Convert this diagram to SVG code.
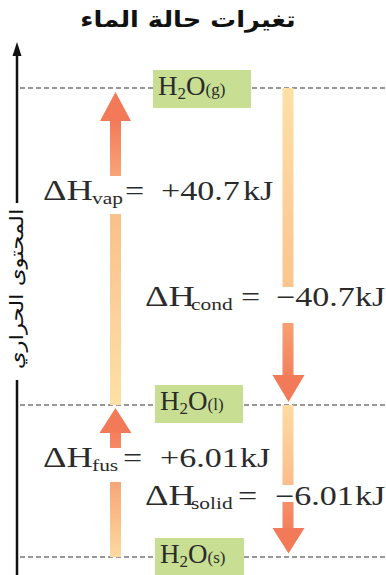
<svg xmlns="http://www.w3.org/2000/svg" width="386" height="575" viewBox="0 0 386 575">
<style>
.dash{stroke:#333;stroke-width:1.2;stroke-dasharray:5 3;fill:none}
.axis{stroke:#111;stroke-width:2.5;fill:none}
.box{fill:#c8de92}
.f{font-family:"Liberation Serif","Times New Roman",serif;fill:#2b2b2b}
.eq{font-size:27px}
.big{font-size:29px}
.sub{font-size:17px}
.hf{font-size:27px}
.hs{font-size:17px}
.ar{font-family:"DejaVu Sans",sans-serif;fill:#111}
.head{fill:#f37a58}
</style>
<defs>
<linearGradient id="g1" x1="0" y1="0" x2="0" y2="1"><stop offset="0" stop-color="#f47a58"/><stop offset="1" stop-color="#f8a47a"/></linearGradient>
<linearGradient id="g2" x1="0" y1="0" x2="0" y2="1"><stop offset="0" stop-color="#fbc08c"/><stop offset="1" stop-color="#fee0a6"/></linearGradient>
<linearGradient id="g3" x1="0" y1="0" x2="0" y2="1"><stop offset="0" stop-color="#f47e5c"/><stop offset="1" stop-color="#f58a64"/></linearGradient>
<linearGradient id="g4" x1="0" y1="0" x2="0" y2="1"><stop offset="0" stop-color="#f8a677"/><stop offset="1" stop-color="#fdd9a0"/></linearGradient>
<linearGradient id="g5" x1="0" y1="0" x2="0" y2="1"><stop offset="0" stop-color="#fedfa6"/><stop offset="1" stop-color="#fbc58f"/></linearGradient>
<linearGradient id="g6" x1="0" y1="0" x2="0" y2="1"><stop offset="0" stop-color="#f8a070"/><stop offset="1" stop-color="#f4805e"/></linearGradient>
<linearGradient id="g7" x1="0" y1="0" x2="0" y2="1"><stop offset="0" stop-color="#fddba2"/><stop offset="1" stop-color="#fbbd8a"/></linearGradient>
<linearGradient id="g8" x1="0" y1="0" x2="0" y2="1"><stop offset="0" stop-color="#f68e66"/><stop offset="1" stop-color="#f4805e"/></linearGradient>
</defs>
<rect width="386" height="575" fill="#fff"/>

<g id="title">
<text class="ar" font-size="22" font-weight="bold" text-anchor="middle" transform="translate(188,27) scale(1.17,1)">تغيرات حالة الماء</text>
</g>

<g id="axis">
<line class="axis" x1="17" y1="54" x2="17" y2="203"/>
<line class="axis" x1="17" y1="380" x2="17" y2="575"/>
<polygon points="17,42 21.5,56 12.5,56" fill="#111"/>
<text class="ar" font-size="19" text-anchor="middle" transform="translate(23,289) rotate(-90) scale(1.2,1)">المحتوى الحراري</text>
</g>

<g id="levels">
<line class="dash" x1="20" y1="88" x2="386" y2="88"/>
<line class="dash" x1="20" y1="405" x2="386" y2="405"/>
<line class="dash" x1="20" y1="557" x2="386" y2="557"/>
</g>

<g id="connectors">
<g id="vap">
<polygon class="head" points="115.5,92 131,121 100,121"/>
<rect x="110" y="120.5" width="11" height="55.5" fill="url(#g1)"/>
<rect x="110" y="214" width="11" height="191" fill="url(#g2)"/>
<text class="f eq" transform="translate(43,200) scale(1.26,1)"><tspan class="big" x="0">ΔH</tspan><tspan class="sub" x="38.9" dy="4">vap</tspan><tspan x="65.1" dy="-4">=</tspan><tspan x="93.7">+40.7</tspan><tspan x="158.7">kJ</tspan></text>
</g>
<g id="fus">
<polygon class="head" points="115.5,408 131.5,433 99.5,433"/>
<rect x="110" y="432.5" width="11" height="15.5" fill="url(#g3)"/>
<rect x="110" y="482" width="11" height="75" fill="url(#g4)"/>
<text class="f eq" transform="translate(43,467) scale(1.26,1)"><tspan class="big" x="0">ΔH</tspan><tspan class="sub" x="38.9" dy="4">fus</tspan><tspan x="63.5" dy="-4">=</tspan><tspan x="92.9">+6.01</tspan><tspan x="156.3">kJ</tspan></text>
</g>
<g id="cond">
<rect x="282.5" y="88" width="11" height="199" fill="url(#g5)"/>
<rect x="282.5" y="323" width="11" height="52.5" fill="url(#g6)"/>
<polygon class="head" points="272.5,375 304.5,375 288.5,402"/>
<text class="f eq" transform="translate(145,306) scale(1.26,1)"><tspan class="big" x="0">ΔH</tspan><tspan class="sub" x="36.5" dy="4">cond</tspan><tspan x="76.2" dy="-4">=</tspan><tspan x="104">−40.7</tspan><tspan x="166.7">kJ</tspan></text>
</g>
<g id="solid">
<rect x="282.5" y="405" width="11" height="80" fill="url(#g7)"/>
<rect x="282.5" y="502" width="11" height="26.5" fill="url(#g8)"/>
<polygon class="head" points="272.5,528 304.5,528 288.5,553.5"/>
<text class="f eq" transform="translate(145,505) scale(1.26,1)"><tspan class="big" x="0">ΔH</tspan><tspan class="sub" x="36.5" dy="4">solid</tspan><tspan x="73.8" dy="-4">=</tspan><tspan x="103.2">−6.01</tspan><tspan x="166.7">kJ</tspan></text>
</g>
</g>

<g id="gas">
<rect class="box" x="153" y="70" width="98" height="38"/>
<text class="f hf" x="158" y="95">H<tspan class="hs" dy="4">2</tspan><tspan dy="-4">O</tspan><tspan class="hs">(g)</tspan></text>
</g>
<g id="liquid">
<rect class="box" x="155" y="385" width="88" height="38"/>
<text class="f hf" x="160" y="410">H<tspan class="hs" dy="4">2</tspan><tspan dy="-4">O</tspan><tspan class="hs">(l)</tspan></text>
</g>
<g id="solid-state">
<rect class="box" x="155" y="538" width="89" height="37"/>
<text class="f hf" x="160" y="563">H<tspan class="hs" dy="4">2</tspan><tspan dy="-4">O</tspan><tspan class="hs">(s)</tspan></text>
</g>
</svg>
